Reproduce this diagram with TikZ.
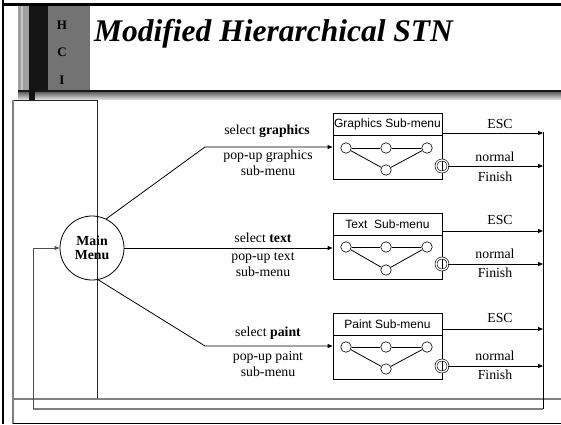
\documentclass[tikz,border=0pt]{standalone}
\usepackage{fontspec}
\setmainfont{Liberation Serif}
\newfontfamily\arialf{Liberation Sans}
\usetikzlibrary{arrows.meta,calc}
\begin{document}
\begin{tikzpicture}[x=1pt,y=-1pt,
  conn/.style={line width=0.8pt},
  arr/.style={conn,-{Triangle[length=5pt,width=4pt]}},
  lbl/.style={font=\fontsize{13.8}{16}\selectfont, inner sep=0pt, align=center},
  boxtitle/.style={draw, line width=0.8pt, minimum width=109pt, minimum height=22pt, inner sep=0pt, font=\arialf\fontsize{12}{14}\selectfont},
  boxbody/.style={draw, line width=0.8pt, minimum width=109pt, minimum height=44pt, inner sep=0pt},
  st/.style={circle, draw, minimum size=10.5pt, inner sep=0pt, fill=white, line width=0.6pt},
  fin/.style={circle, draw, double, double distance=1.3pt, minimum size=12pt, inner sep=0pt, line width=0.6pt},
  hci/.style={font=\fontsize{13}{15}\selectfont\bfseries, inner sep=0pt}
]
\useasboundingbox (0,0) rectangle (561,424);
% --- decoration ---
\fill[black] (2,0) rectangle (4,424);
\fill[black] (2,3) rectangle (561,6);
\fill[gray!75] (18,6) rectangle (29,100);
\fill[gray!45] (21,6) rectangle (23,100);
\shade[top color=black!75, bottom color=gray!30] (18,90) rectangle (561,99);
\fill[black!90] (18,90) rectangle (561,92);
\fill[black!92] (29,6) rectangle (48,90);
\fill[black!92] (29,90) rectangle (35,100);
\fill[black!55] (48,6) rectangle (90,90);
\node[hci] (h) at (62,25) {H};
\node[hci] (c) at (62,52) {C};
\node[hci] (i) at (62,80) {I};
\node[anchor=base west, inner sep=0pt, font=\fontsize{31.5}{33}\selectfont\bfseries\itshape] (title) at (94,41) {Modified Hierarchical STN};
% --- frame lines ---
\draw[line width=0.8pt, black!85] (13,100) -- (97,100) -- (97,399);
\draw[line width=1.6pt, gray] (13,100) -- (13,424);
\draw[line width=1.6pt, gray] (13,399) -- (561,399);
\draw[line width=1pt, black] (13,423) -- (561,423);
% --- main menu ---
\node[circle, draw, line width=0.8pt, minimum size=64pt, inner sep=0pt, align=center,
      font=\fontsize{13.8}{14.5}\selectfont\bfseries] (main) at (92,248) {Main\\Menu};
% --- sub-menu boxes ---
\node[boxtitle] (gt) at (387.5,124) {Graphics Sub-menu};
\node[boxbody] (gb) at (387.5,157) {};
\node[boxtitle] (tt) at (387.5,224.5) {Text\ \ Sub-menu};
\node[boxbody] (tb) at (387.5,257.5) {};
\node[boxtitle] (pt) at (387.5,324) {Paint Sub-menu};
\node[boxbody] (pb) at (387.5,357.5) {};
% graphics states
\node[st] (g1) at (346,148) {};
\node[st] (g2) at (386,148) {};
\node[st] (g3) at (427,148) {};
\node[st] (g4) at (386,170) {};
\node[fin] (gf) at (442,166) {};
\draw[conn] (g1) -- (g2) -- (g3);
\draw[conn] (g1) -- (g4) -- (g3);
% text states
\node[st] (t1) at (346,247) {};
\node[st] (t2) at (386,247) {};
\node[st] (t3) at (427,247) {};
\node[st] (t4) at (386,270) {};
\node[fin] (tf) at (442,264) {};
\draw[conn] (t1) -- (t2) -- (t3);
\draw[conn] (t1) -- (t4) -- (t3);
% paint states
\node[st] (p1) at (346,347) {};
\node[st] (p2) at (386,347) {};
\node[st] (p3) at (427,347) {};
\node[st] (p4) at (386,369) {};
\node[fin] (pf) at (442,366) {};
\draw[conn] (p1) -- (p2) -- (p3);
\draw[conn] (p1) -- (p4) -- (p3);
% --- branches from main ---
\coordinate (kG) at (205,147);
\coordinate (kP) at (205,346);
\draw[arr] (main.64) -- (kG) -- (gb.west |- kG);
\draw[arr] (main.east) -- (tb.west |- main.east);
\draw[arr] (main.-79) -- (kP) -- (pb.west |- kP);
\node[lbl] (selG) at (267,131) {select \textbf{graphics}};
\node[lbl] (popG) at (268,163) {pop-up graphics\\sub-menu};
\node[lbl] (selT) at (263,238) {select \textbf{text}};
\node[lbl] (popT) at (263,264.5) {pop-up text\\sub-menu};
\node[lbl] (selP) at (268,333) {select \textbf{paint}};
\node[lbl] (popP) at (268,364) {pop-up paint\\sub-menu};
% --- exits ---
\coordinate (ctop) at (543,132);
\coordinate (cbot) at (543,409);
\coordinate (eG) at (543,133);
\coordinate (eT) at (543,231);
\coordinate (eP) at (543,329);
\draw[conn] (ctop) -- (cbot);
\draw[arr] (gt.east |- eG) -- (eG);
\draw[arr] (tt.east |- eT) -- (eT);
\draw[arr] (pt.east |- eP) -- (eP);
\draw[arr] (gf.east) -- (gf.east -| ctop);
\draw[arr] (tf.east) -- (tf.east -| ctop);
\draw[arr] (pf.east) -- (pf.east -| ctop);
\node[lbl] (escG) at (500,124) {ESC};
\node[lbl] (escT) at (500,220) {ESC};
\node[lbl] (escP) at (500,318) {ESC};
\node[lbl] (nG) at (495,157) {normal};
\node[lbl] (fG) at (495,177) {Finish};
\node[lbl] (nT) at (495,254) {normal};
\node[lbl] (fT) at (495,273) {Finish};
\node[lbl] (nP) at (495,356) {normal};
\node[lbl] (fP) at (495,375) {Finish};
% --- feedback loop ---
\draw[line width=1.4pt, gray] (cbot) -- (33,409);
\draw[arr, black!70] (33,409) |- (main.west);
\end{tikzpicture}
\end{document}
